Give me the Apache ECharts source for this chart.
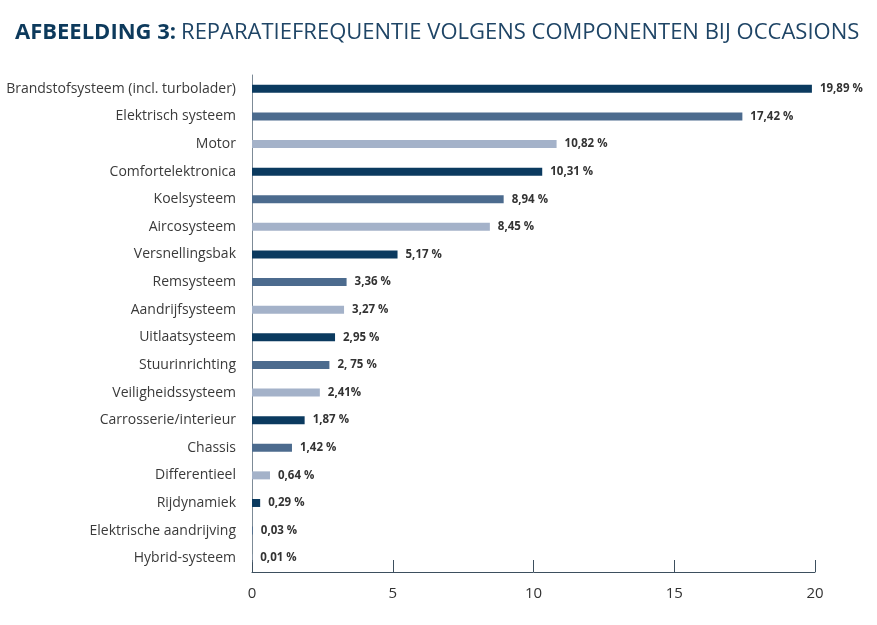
<!DOCTYPE html>
<html><head><meta charset="utf-8">
<script src="https://cdn.jsdelivr.net/npm/echarts@6/dist/echarts.min.js"></script>
<style>html,body{margin:0;padding:0;background:#fff}#c{width:877px;height:625px}</style>
</head><body><div id="c"></div>
<script>
const categories = ["Brandstofsysteem (incl. turbolader)","Elektrisch systeem","Motor","Comfortelektronica","Koelsysteem","Aircosysteem","Versnellingsbak","Remsysteem","Aandrijfsysteem","Uitlaatsysteem","Stuurinrichting","Veiligheidssysteem","Carrosserie/interieur","Chassis","Differentieel","Rijdynamiek","Elektrische aandrijving","Hybrid-systeem"];
const values = [19.89,17.42,10.82,10.31,8.94,8.45,5.17,3.36,3.27,2.95,2.75,2.41,1.87,1.42,0.64,0.29,0.03,0.01];
const valueLabels = ["19,89 %","17,42 %","10,82 %","10,31 %","8,94 %","8,45 %","5,17 %","3,36 %","3,27 %","2,95 %","2, 75 %","2,41%","1,87 %","1,42 %","0,64 %","0,29 %","0,03 %","0,01 %"];
const xTicks = [0,5,10,15,20];
const palette = ["#0b3a5f","#4c6b8e","#a4b2c9"];
const FONT = "'Open Sans',sans-serif";

const chart = echarts.init(document.getElementById('c'));
chart.setOption({
  animation:false,
  title:{
    left:10, top:17,
    text:'{b|AFBEELDING 3:} {r|REPARATIEFREQUENTIE VOLGENS COMPONENTEN BIJ OCCASIONS}',
    textStyle:{rich:{
      b:{fontFamily:FONT,fontWeight:'bold',fontSize:22,color:'#0d3a5c'},
      r:{fontFamily:FONT,fontWeight:'normal',fontSize:22,color:'#1f4566'}
    }}
  },
  grid:{left:252,right:62,top:75,bottom:53,containLabel:false,outerBoundsMode:'none'},
  xAxis:{
    type:'value',min:0,max:20,interval:5,
    axisLine:{show:true,lineStyle:{color:'#3d4f5e',width:1}},
    axisTick:{show:true,inside:true,length:12,lineStyle:{color:'#3d4f5e'}},
    splitLine:{show:false},
    axisLabel:{color:'#333',fontFamily:FONT,fontSize:15,margin:14,
      formatter:v=>xTicks.includes(v)?String(v):''}
  },
  yAxis:{
    type:'category',inverse:true,data:categories,
    axisLine:{show:true,lineStyle:{color:'#7d8b97',width:1}},
    axisTick:{show:false},
    axisLabel:{color:'#3a3a3a',fontFamily:FONT,fontSize:14,margin:16}
  },
  series:[{
    type:'bar',barWidth:8,
    data:values.map((v,i)=>({value:v,itemStyle:{color:palette[i%3]}})),
    label:{show:true,position:'right',distance:8,fontFamily:FONT,fontWeight:'bold',fontSize:11.5,color:'#333',
      formatter:p=>valueLabels[p.dataIndex]}
  }]
});
</script></body></html>
